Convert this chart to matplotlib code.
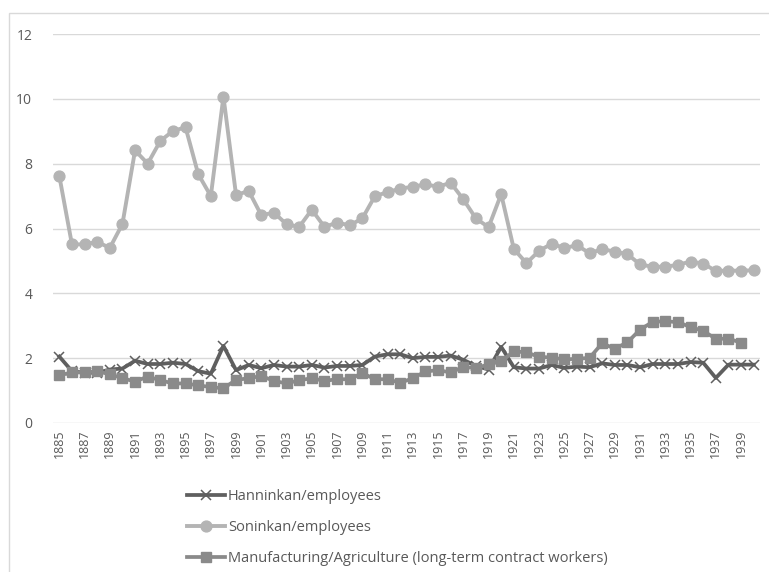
import numpy as np
import matplotlib
matplotlib.use("Agg")
import matplotlib.pyplot as plt
from matplotlib.patches import Rectangle

plt.rcParams['font.family'] = ['Open Sans', 'DejaVu Sans']

years = list(range(1885, 1941))

hanninkan = [2.05, 1.60, 1.55, 1.55, 1.65, 1.68, 1.92, 1.82, 1.82, 1.86,
             1.82, 1.60, 1.52, 2.38, 1.63, 1.79, 1.69, 1.79, 1.74, 1.74,
             1.79, 1.71, 1.76, 1.76, 1.79, 2.05, 2.12, 2.12, 2.00, 2.04,
             2.04, 2.08, 1.95, 1.76, 1.65, 2.35, 1.72, 1.68, 1.68, 1.79,
             1.70, 1.74, 1.72, 1.84, 1.79, 1.79, 1.72, 1.82, 1.82, 1.82,
             1.88, 1.86, 1.39, 1.80, 1.80, 1.80]

soninkan = [7.62, 5.51, 5.51, 5.59, 5.40, 6.14, 8.41, 8.00, 8.70, 9.01,
            9.12, 7.68, 7.00, 10.07, 7.03, 7.16, 6.41, 6.49, 6.13, 6.05,
            6.58, 6.05, 6.18, 6.10, 6.31, 7.00, 7.12, 7.23, 7.29, 7.36,
            7.29, 7.41, 6.90, 6.31, 6.04, 7.06, 5.37, 4.93, 5.31, 5.53,
            5.40, 5.48, 5.24, 5.36, 5.29, 5.21, 4.89, 4.82, 4.82, 4.88,
            4.98, 4.92, 4.69, 4.70, 4.70, 4.71]

manufacturing = [1.47, 1.56, 1.56, 1.59, 1.51, 1.38, 1.28, 1.43, 1.32, 1.22,
                 1.22, 1.16, 1.11, 1.07, 1.33, 1.38, 1.45, 1.30, 1.22, 1.32,
                 1.38, 1.30, 1.35, 1.35, 1.54, 1.35, 1.35, 1.24, 1.38, 1.59,
                 1.63, 1.56, 1.73, 1.69, 1.81, 1.90, 2.21, 2.18, 2.04, 2.02,
                 1.96, 1.98, 2.01, 2.46, 2.29, 2.49, 2.88, 3.12, 3.14, 3.11,
                 2.96, 2.84, 2.60, 2.60, 2.48, None]

labels = ["Hanninkan/employees", "Soninkan/employees",
          "Manufacturing/Agriculture (long-term contract workers)"]

yticks = [0, 2, 4, 6, 8, 10, 12]

W, H = 769, 572
fig = plt.figure(figsize=(W / 100, H / 100), dpi=100)
ax = fig.add_axes([53 / W, 1 - 423 / H, (760 - 53) / W, (423 - 34) / H])

x = np.arange(len(years))
manu = np.array([np.nan if v is None else v for v in manufacturing], dtype=float)

l1, = ax.plot(x, hanninkan, color='#5f5f5f', lw=2.7, marker='x', ms=6.5,
              mew=1.1, zorder=3, label=labels[0])
l2, = ax.plot(x, soninkan, color='#b4b4b4', lw=2.8, marker='o', ms=7.8,
              zorder=4, label=labels[1])
l3, = ax.plot(x, manu, color='#8a8a8a', lw=2.7, marker='s', ms=6.8,
              zorder=3.5, label=labels[2])

ax.set_xlim(-0.5, len(years) - 0.5)
ax.set_ylim(0, 12)
ax.set_yticks(yticks)
ax.set_yticklabels([str(v) for v in yticks])
ax.set_xticks(x[::2])
ax.set_xticklabels([str(y) for y in years[::2]], rotation=90)

ax.grid(axis='y', color='#d9d9d9', lw=1)
ax.set_axisbelow(True)
for s in ax.spines.values():
    s.set_visible(False)
ax.tick_params(axis='both', length=0, colors='#595959')
ax.tick_params(axis='y', labelsize=10, pad=15)
ax.tick_params(axis='x', labelsize=9, pad=5)

leg = fig.legend(handles=[l1, l2, l3], loc='upper left',
                 bbox_to_anchor=(187 / W, 1 - 489.5 / H), frameon=False,
                 fontsize=10.5, handlelength=2.6, handletextpad=0.2,
                 labelspacing=1.07, borderpad=0, borderaxespad=0)
for t in leg.get_texts():
    t.set_color('#595959')

fig.patches.append(Rectangle((9 / W, -0.1), 1.2, 1 - 13 / H + 0.1,
                             transform=fig.transFigure, fill=False,
                             edgecolor='#d9d9d9', lw=1))

fig.savefig('out.png', dpi=100)
